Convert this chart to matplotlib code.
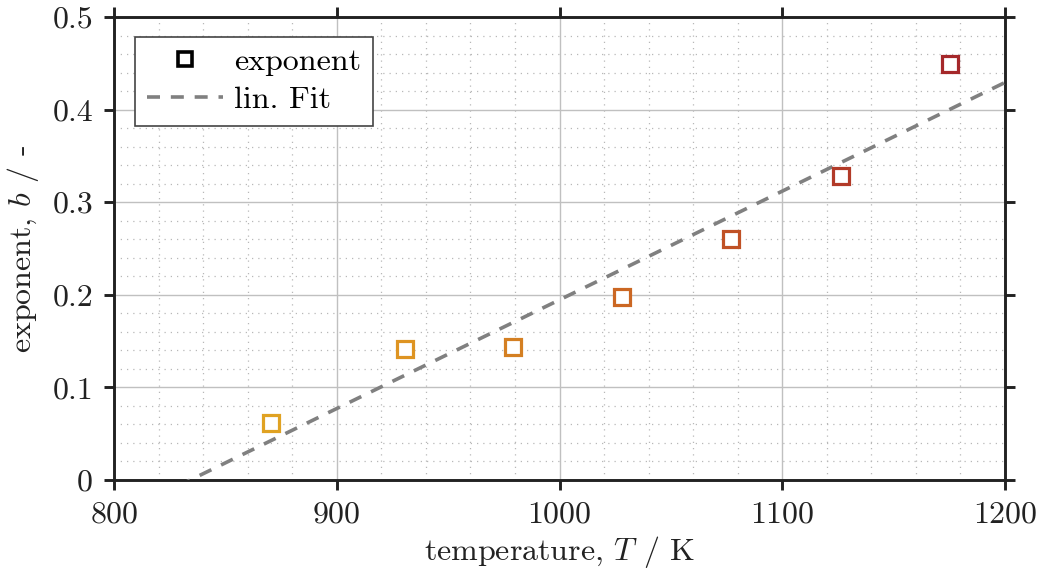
import numpy as np
import matplotlib
matplotlib.use('Agg')
from matplotlib import pyplot as plt
from matplotlib.ticker import MultipleLocator

# data
temperature = [870.5, 930.6, 979.1, 1028.1, 1077.0, 1126.4, 1175.3]
exponent = [0.0616, 0.1415, 0.1436, 0.1976, 0.260, 0.328, 0.449]
point_colors = ['#E0A222', '#DE9422', '#D47F22', '#CB6723', '#C05125', '#B23A28', '#A5282A']

x_ticks = [800, 900, 1000, 1100, 1200]
y_ticks = [0, 0.1, 0.2, 0.3, 0.4, 0.5]
y_tick_labels = ['0', '0.1', '0.2', '0.3', '0.4', '0.5']

plt.rcParams['font.family'] = 'serif'
plt.rcParams['font.serif'] = ['cmr10', 'DejaVu Serif']
plt.rcParams['mathtext.fontset'] = 'cm'
plt.rcParams['axes.formatter.use_mathtext'] = True
plt.rcParams['font.size'] = 23

fig = plt.figure(figsize=(10.42, 5.76), dpi=100)
ax = fig.add_axes([0.1094, 0.1667, 0.8551, 0.8038])

# linear fit
coef = np.polyfit(temperature, exponent, 1)
x_fit = np.array([800, 1200])
ax.plot(x_fit, np.polyval(coef, x_fit), color='#808080', lw=2.6,
        dashes=(3.6, 3.0), dash_capstyle='butt', zorder=3)

for t, e, c in zip(temperature, exponent, point_colors):
    ax.plot(t, e, 's', ms=11.5, mfc='white', mec=c, mew=2.3, zorder=4)

# legend handles
ax.plot([], [], 's', ms=10.5, mfc='white', mec='black', mew=2.6, label='exponent')
ax.plot([], [], color='#808080', lw=2.6, dashes=(3.6, 3.0),
        dash_capstyle='butt', label='lin. Fit')

ax.set_xlim(800, 1200)
ax.set_ylim(0, 0.5)
ax.set_xticks(x_ticks)
ax.set_yticks(y_ticks)
ax.set_yticklabels(y_tick_labels)
ax.xaxis.set_minor_locator(MultipleLocator(20))
ax.yaxis.set_minor_locator(MultipleLocator(0.02))

ax.grid(True, which='major', color='#c0c0c0', lw=1.0, ls='-')
ax.grid(True, which='minor', color='#b8b8b8', lw=0.9, ls=(0, (1, 4)))
ax.set_axisbelow(True)

for s in ax.spines.values():
    s.set_linewidth(2.1)
    s.set_color('#222222')
ax.tick_params(which='major', direction='out', length=7, width=2.1, color='#222222',
               top=True, right=True, labelsize=23, labelcolor='#222222', pad=8)
ax.tick_params(which='minor', length=0)

ax.set_xlabel('temperature, $T$ / K', fontsize=23, color='#222222', labelpad=4)
ax.set_ylabel('exponent, $b$ / -', fontsize=23, color='#222222', labelpad=8)

leg = ax.legend(loc='upper left', bbox_to_anchor=(0.024, 0.957), fontsize=23,
                fancybox=False, framealpha=1, edgecolor='#444444',
                handlelength=2.4, handletextpad=0.35, borderpad=0.35,
                labelspacing=0.3, borderaxespad=0)
leg.get_frame().set_linewidth(1.2)

plt.savefig('out.png', dpi=100)
